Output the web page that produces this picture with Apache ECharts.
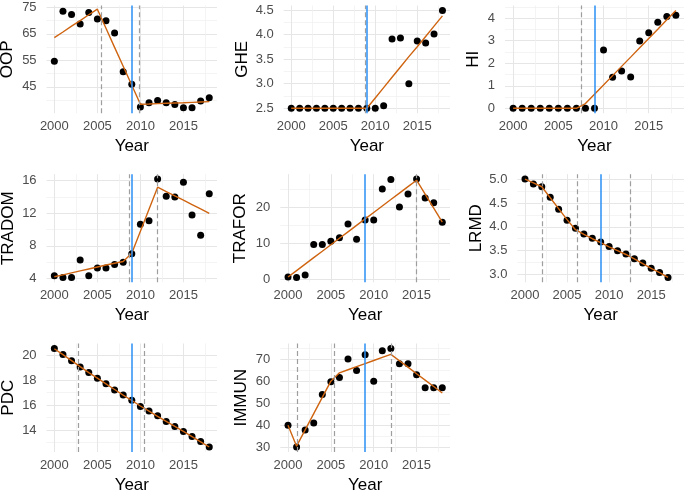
<!DOCTYPE html>
<html><head><meta charset="utf-8">
<script src="https://cdn.jsdelivr.net/npm/echarts@6/dist/echarts.min.js"></script>
<style>html,body{margin:0;padding:0;background:#fff}#c{width:685px;height:494px}</style>
</head><body><div id="c"></div>
<script>
// ---------- data ----------
const years = [2000,2001,2002,2003,2004,2005,2006,2007,2008,2009,2010,2011,2012,2013,2014,2015,2016,2017,2018];
const xMajorTicks = [2000, 2005, 2010, 2015];
const xMinorTicks = [2002.5, 2007.5, 2012.5, 2017.5];
const policyYear = 2009;

const OOP      = [54.7,73.5,72.3,68.7,73.1,70.6,69.9,65.3,50.7,46.0,37.4,39.0,39.8,39.0,38.3,37.1,37.1,39.7,40.9];
const OOP_fit  = [63.6,65.7,67.9,70.0,72.2,74.3,67.1,59.9,52.8,45.6,38.4,38.5,38.65,38.8,38.9,39.0,39.15,39.3,39.4];
const OOP_breaks = [2005.4, 2009.85];
const OOP_yMajor = [45,55,65,75];
const OOP_yMinor = [40,50,60,70];

const GHE      = [2.5,2.5,2.5,2.5,2.5,2.5,2.5,2.5,2.5,2.5,2.5,2.55,3.91,3.93,3.0,3.87,3.83,4.01,4.49];
const GHE_fit  = [2.5,2.5,2.5,2.5,2.5,2.5,2.5,2.5,2.5,2.5,2.71,2.92,3.13,3.34,3.55,3.75,3.96,4.17,4.38];
const GHE_breaks = [2008.85];
const GHE_yMajor = [2.5,3.0,3.5,4.0,4.5];
const GHE_yMinor = [2.75,3.25,3.75,4.25];

const HI       = [0,0,0,0,0,0,0,0,0,0,2.59,1.38,1.66,1.39,2.99,3.35,3.82,4.07,4.13];
const HI_fit   = [0,0,0,0,0,0,0,0,0.21,0.62,1.03,1.45,1.86,2.27,2.69,3.10,3.51,3.93,4.34];
const HI_breaks = [2007.5];
const HI_yMajor = [0,1,2,3,4];
const HI_yMinor = [0.5,1.5,2.5,3.5,4.5];

const TRADOM     = [4.33,4.12,4.12,6.25,4.33,5.27,5.27,5.72,5.97,7.03,10.64,11.09,16.2,14.08,14.0,15.8,11.79,9.29,14.41];
const TRADOM_fit = [4.2,4.44,4.68,4.92,5.16,5.4,5.64,5.86,6.08,7.1,9.8,12.5,15.2,14.67,14.13,13.6,13.07,12.53,12.0];
const TRADOM_breaks = [2008.65, 2012.0];
const TRADOM_yMajor = [4,8,12,16];
const TRADOM_yMinor = [6,10,14];

const TRAFOR     = [0.73,0.64,1.28,9.72,9.72,10.6,11.6,15.4,11.2,16.5,16.5,25.1,27.7,20.1,23.7,27.8,22.6,21.3,15.9];
const TRAFOR_fit = [0.73,2.51,4.30,6.09,7.87,9.66,11.44,13.23,15.01,16.80,18.58,20.37,22.15,23.94,25.72,27.5,23.63,19.77,15.9];
const TRAFOR_breaks = [2015.0];
const TRAFOR_yMajor = [0,10,20];
const TRAFOR_yMinor = [5,15,25];

const LRMD     = [5.0,4.90,4.84,4.62,4.37,4.14,3.97,3.85,3.76,3.68,3.59,3.50,3.43,3.33,3.24,3.13,3.04,2.94,null];
const LRMD_fit = [5.0,4.92,4.84,4.61,4.38,4.15,3.94,3.84,3.75,3.67,3.58,3.50,3.42,3.33,3.23,3.13,3.04,2.94,null];
const LRMD_breaks = [2002.0, 2006.2, 2012.5];
const LRMD_yMajor = [3.0,3.5,4.0,4.5,5.0];
const LRMD_yMinor = [3.25,3.75,4.25,4.75];

const PDC      = [20.53,20.05,19.55,19.05,18.6,18.14,17.7,17.2,16.8,16.4,15.9,15.54,15.15,14.7,14.3,13.9,13.5,13.1,12.65];
const PDC_fit  = [20.5,20.03,19.55,19.07,18.6,18.15,17.7,17.25,16.8,16.37,15.93,15.52,15.1,14.7,14.3,13.9,13.48,13.07,12.66];
const PDC_breaks = [2002.8, 2010.4];
const PDC_yMajor = [14,16,18,20];
const PDC_yMinor = [13,15,17,19];

const IMMUN     = [40.0,30.1,37.9,41.1,54.0,59.8,61.8,70.2,65.0,72.1,60.1,73.95,75.0,68.0,68.0,63.0,57.1,57.1,57.1];
const IMMUN_fit = [40.0,30.5,37.9,45.3,52.7,60.1,63.9,65.3,66.7,68.1,69.5,70.9,72.3,69.4,66.5,63.5,60.6,57.7,54.7];
const IMMUN_breaks = [2001.1, 2005.45, 2012.0];
const IMMUN_yMajor = [30,40,50,60,70];
const IMMUN_yMinor = [35,45,55,65,75];

// ---------- panels ----------
const panels = [
  {name:'OOP',    values:OOP,    fit:OOP_fit,    breaks:OOP_breaks,    yMajor:OOP_yMajor,    yMinor:OOP_yMinor,    yRange:[35.05,75.7], dec:0},
  {name:'GHE',    values:GHE,    fit:GHE_fit,    breaks:GHE_breaks,    yMajor:GHE_yMajor,    yMinor:GHE_yMinor,    yRange:[2.40,4.59],  dec:1},
  {name:'HI',     values:HI,     fit:HI_fit,     breaks:HI_breaks,     yMajor:HI_yMajor,     yMinor:HI_yMinor,     yRange:[-0.217,4.56],dec:0},
  {name:'TRADOM', values:TRADOM, fit:TRADOM_fit, breaks:TRADOM_breaks, yMajor:TRADOM_yMajor, yMinor:TRADOM_yMinor, yRange:[3.52,16.8],  dec:0},
  {name:'TRAFOR', values:TRAFOR, fit:TRAFOR_fit, breaks:TRAFOR_breaks, yMajor:TRAFOR_yMajor, yMinor:TRAFOR_yMinor, yRange:[-0.72,29.16],dec:0},
  {name:'LRMD',   values:LRMD,   fit:LRMD_fit,   breaks:LRMD_breaks,   yMajor:LRMD_yMajor,   yMinor:LRMD_yMinor,   yRange:[2.837,5.103],dec:1},
  {name:'PDC',    values:PDC,    fit:PDC_fit,    breaks:PDC_breaks,    yMajor:PDC_yMajor,    yMinor:PDC_yMinor,    yRange:[12.26,20.92],dec:0},
  {name:'IMMUN',  values:IMMUN,  fit:IMMUN_fit,  breaks:IMMUN_breaks,  yMajor:IMMUN_yMajor,  yMinor:IMMUN_yMinor,  yRange:[27.86,77.25],dec:0}
];

// ---------- layout (pixels) ----------
const layout = [
  {left:46.6,  top:5.5,   right:217, bottom:113.2, nameGap:31},
  {left:283.7, top:5.5,   right:450, bottom:113.2, nameGap:33},
  {left:505,   top:5.5,   right:684, bottom:113.2, nameGap:23.5},
  {left:46.6,  top:174.2, right:217, bottom:282.3, nameGap:29.5},
  {left:280.3, top:174.2, right:450, bottom:282.3, nameGap:31},
  {left:517.4, top:174.2, right:684, bottom:282.3, nameGap:33},
  {left:46.6,  top:343.5, right:217, bottom:452,   nameGap:29.5},
  {left:280.3, top:343.5, right:450, bottom:452,   nameGap:30.5}
];

const FONT = 'Liberation Sans, Arial, Helvetica, sans-serif';
const ORANGE = '#cf6410';
const BLUE = '#2b8ff5';
const DASH = '#9e9e9e';
const MAJOR = {color:'#e6e6e6', width:1};
const MINOR = {color:'#efefef', width:0.7};
const X_RANGE = [1999.1, 2018.9];

const grid = [], xAxis = [], yAxis = [], series = [];
panels.forEach((p, i) => {
  const L = layout[i];
  grid.push({left:L.left, top:L.top, width:L.right-L.left, height:L.bottom-L.top, containLabel:false, outerBoundsMode:'none'});
  xAxis.push({
    type:'value', gridIndex:i, min:X_RANGE[0], max:X_RANGE[1],
    axisLine:{show:false}, axisTick:{show:false, customValues:xMajorTicks},
    axisLabel:{customValues:xMajorTicks, color:'#4d4d4d', fontSize:13, fontFamily:FONT, margin:7, formatter:v=>String(v)},
    splitLine:{show:true, lineStyle:MAJOR},
    name:'Year', nameLocation:'middle', nameGap:25,
    nameTextStyle:{color:'#000', fontSize:17, fontFamily:FONT}
  });
  xAxis.push({
    type:'value', gridIndex:i, min:X_RANGE[0], max:X_RANGE[1],
    axisLine:{show:false}, axisTick:{show:false, customValues:xMinorTicks},
    axisLabel:{show:false, customValues:xMinorTicks},
    splitLine:{show:true, lineStyle:MINOR}
  });
  yAxis.push({
    type:'value', gridIndex:i, min:p.yRange[0], max:p.yRange[1],
    axisLine:{show:false}, axisTick:{show:false, customValues:p.yMajor},
    axisLabel:{customValues:p.yMajor, color:'#4d4d4d', fontSize:13, fontFamily:FONT, margin:10, formatter:v=>Number(v).toFixed(p.dec)},
    splitLine:{show:true, lineStyle:MAJOR},
    name:p.name, nameLocation:'middle', nameGap:L.nameGap, nameRotate:90,
    nameTextStyle:{color:'#000', fontSize:17, fontFamily:FONT}
  });
  yAxis.push({
    type:'value', gridIndex:i, min:p.yRange[0], max:p.yRange[1],
    axisLine:{show:false}, axisTick:{show:false, customValues:p.yMinor},
    axisLabel:{show:false, customValues:p.yMinor},
    splitLine:{show:true, lineStyle:MINOR}
  });
  const pts = [], fitPts = [];
  years.forEach((y, k) => {
    if (p.values[k] != null) pts.push([y, p.values[k]]);
    if (p.fit[k] != null) fitPts.push([y, p.fit[k]]);
  });
  series.push({
    type:'scatter', xAxisIndex:2*i, yAxisIndex:2*i, data:pts, symbolSize:7,
    itemStyle:{color:'#000', opacity:1}, z:2, silent:true
  });
  const ml = p.breaks.map(b => ({xAxis:b, lineStyle:{color:DASH, type:[5,3], width:1.2}}));
  ml.push({xAxis:policyYear, lineStyle:{color:BLUE, type:'solid', width:1.5}});
  series.push({
    type:'line', xAxisIndex:2*i, yAxisIndex:2*i, data:fitPts, showSymbol:false, symbol:'none',
    lineStyle:{color:ORANGE, width:1.4}, z:3, silent:true,
    markLine:{silent:true, symbol:['none','none'], label:{show:false}, animation:false, data:ml}
  });
});

const chart = echarts.init(document.getElementById('c'), null, {renderer:'canvas'});
chart.setOption({backgroundColor:'#fff', animation:false, grid, xAxis, yAxis, series});
</script>
</body></html>
